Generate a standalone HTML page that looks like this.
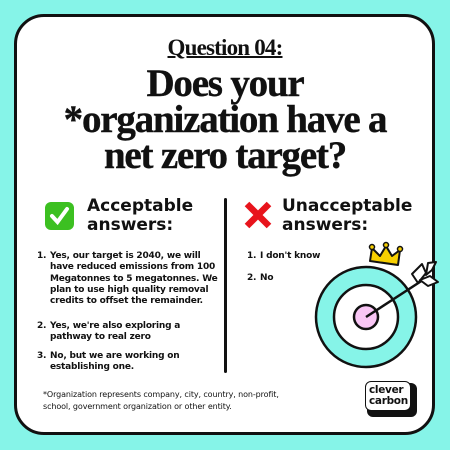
<!DOCTYPE html>
<html><head><meta charset="utf-8"><style>
html,body{margin:0;padding:0;width:450px;height:450px;overflow:hidden;background:#86f4e8}
.card{position:absolute;left:14px;top:14px;width:415px;height:415px;border:3px solid #111;border-radius:30px;background:#fff}
.serif{font-family:"Liberation Serif",serif;font-weight:bold;color:#111;text-align:center;position:absolute;left:0;width:450px}
.sans{font-family:"DejaVu Sans","Liberation Sans",sans-serif;font-weight:bold;color:#111;position:absolute}
.li{font-size:9px;line-height:11.3px;letter-spacing:-0.2px}
.num{position:absolute;left:-13px}
</style></head><body>
<div class="card"></div>
<div class="serif" style="top:35px;font-size:23px;letter-spacing:-0.8px"><span style="text-decoration:underline;text-decoration-thickness:1.5px">Question 04:</span></div>
<div class="serif" style="top:66px;font-size:39px;line-height:36px;letter-spacing:-1.2px;-webkit-text-stroke:0.4px #111">Does your<br>*organization have a<br>net zero target?</div>

<svg style="position:absolute;left:45px;top:202px" width="29" height="28"><rect x="0" y="0" width="29" height="28" rx="6" fill="#3cc021"/><path d="M7 14 L12.5 20 L22 7" stroke="#fff" stroke-width="4" fill="none" stroke-linecap="round"/></svg>
<div class="sans" style="left:87px;top:197px;font-size:17px;line-height:19px">Acceptable<br>answers:</div>
<div class="sans li" style="left:50px;top:251px;width:175px"><span class="num">1.</span>Yes, our target is 2040, we will have reduced emissions from 100 Megatonnes to 5 megatonnes. We plan to use high quality removal credits to offset the remainder.</div>
<div class="sans li" style="left:50px;top:321px;width:175px"><span class="num">2.</span>Yes, we're also exploring a<br>pathway to real zero</div>
<div class="sans li" style="left:50px;top:351px;width:175px"><span class="num">3.</span>No, but we are working on<br>establishing one.</div>
<div style="position:absolute;left:224px;top:198px;width:3px;height:175px;background:#111;border-radius:2px"></div>

<svg style="position:absolute;left:243px;top:201px" width="30" height="28"><path d="M4 3 L26 25 M26 3 L4 25" stroke="#e8141c" stroke-width="6.5"/></svg>
<div class="sans" style="left:282px;top:197px;font-size:17px;line-height:19px">Unacceptable<br>answers:</div>
<div class="sans li" style="left:260px;top:251px"><span class="num">1.</span>I don't know</div>
<div class="sans li" style="left:260px;top:273px"><span class="num">2.</span>No</div>

<svg style="position:absolute;left:300px;top:240px" width="150" height="150">
<circle cx="66" cy="77" r="50" fill="#86f4e8" stroke="#111" stroke-width="2.5"/>
<circle cx="66" cy="77" r="32" fill="#fff" stroke="#111" stroke-width="2.5"/>
<circle cx="66" cy="77" r="12" fill="#f9c6f5" stroke="#111" stroke-width="2.5"/>
<path d="M70 21 L72 8 L80 16 L86 6 L92 16 L100 10 L98 25 Z" fill="#f7cf00" stroke="#111" stroke-width="2" stroke-linejoin="round"/>
<circle cx="72" cy="7" r="2.5" fill="#f7cf00" stroke="#111" stroke-width="1.5"/><circle cx="86" cy="5" r="2.5" fill="#f7cf00" stroke="#111" stroke-width="1.5"/><circle cx="100" cy="9" r="2.5" fill="#f7cf00" stroke="#111" stroke-width="1.5"/>
<line x1="66" y1="77" x2="126" y2="38" stroke="#111" stroke-width="2.5"/>
<path d="M118 43 L112 34 L122 24 L126 33 Z M126 35 L132 30 L136 22 L128 23 Z" fill="#fff" stroke="#111" stroke-width="2" stroke-linejoin="round"/>
<path d="M120 40 L128 46 L138 42 L130 36 Z" fill="#fff" stroke="#111" stroke-width="2" stroke-linejoin="round"/>
</svg>

<div class="sans" style="left:43px;top:389px;font-size:8px;line-height:12px;font-weight:normal;letter-spacing:-0.1px">*Organization represents company, city, country, non-profit,<br>school, government organization or other entity.</div>

<div style="position:absolute;left:367px;top:383px;width:50px;height:34px;background:#111;border-radius:6px"></div>
<div class="sans" style="left:365px;top:381px;width:46px;height:30px;background:#fff;border:1.5px solid #111;border-radius:6px;font-size:10.5px;line-height:10.5px;padding:3px 0 0 3px;box-sizing:border-box;letter-spacing:-0.3px">clever<br>carbon</div>
</body></html>
